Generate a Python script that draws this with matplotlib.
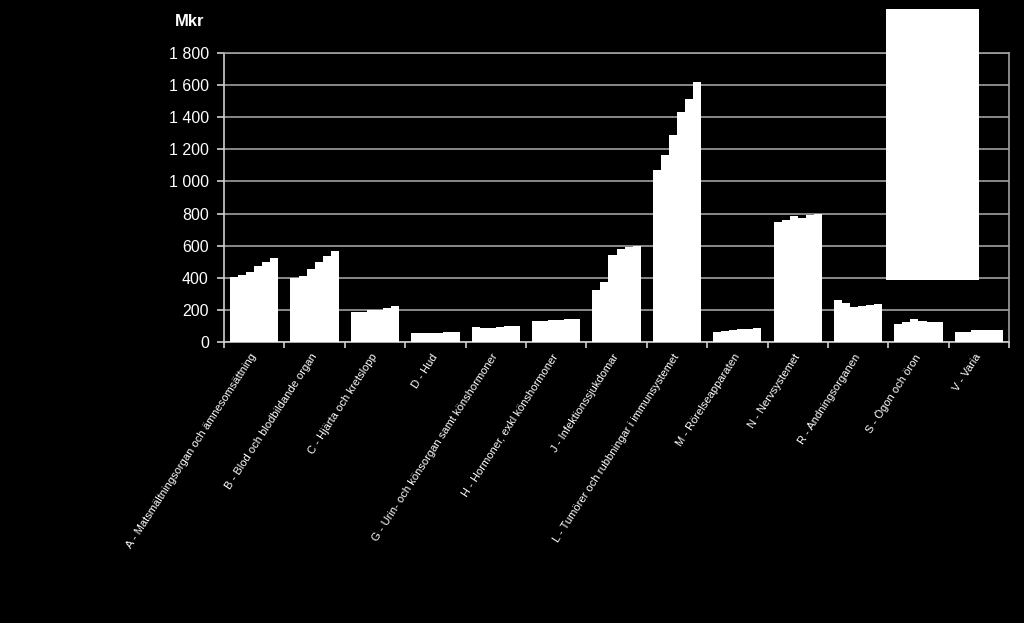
import numpy as np
import matplotlib
matplotlib.use("Agg")
import matplotlib.pyplot as plt
from matplotlib.patches import Rectangle
from matplotlib.ticker import FuncFormatter, FixedLocator

plt.rcParams['font.family'] = ['Liberation Sans', 'DejaVu Sans']

# categories (ATC groups) and six yearly values per group, Mkr
categories = [
    "A - Matsmältningsorgan och ämnesomsättning",
    "B - Blod och blodbildande organ",
    "C - Hjärta och kretslopp",
    "D - Hud",
    "G - Urin- och könsorgan samt könshormoner",
    "H - Hormoner, exkl könshormoner",
    "J - Infektionssjukdomar",
    "L - Tumörer och rubbningar i immunsystemet",
    "M - Rörelseapparaten",
    "N - Nervsystemet",
    "R - Andningsorganen",
    "S - Ögon och öron",
    "V - Varia",
]
year1 = [408, 398, 186, 55, 95, 135, 325, 1070, 65, 745, 262, 115, 63]
year2 = [416, 410, 191, 56, 88, 130, 375, 1165, 68, 760, 247, 127, 66]
year3 = [435, 454, 198, 58, 90, 137, 540, 1290, 74, 783, 218, 142, 78]
year4 = [474, 497, 200, 60, 95, 140, 580, 1430, 80, 775, 228, 135, 74]
year5 = [499, 534, 211, 63, 100, 142, 590, 1510, 85, 790, 233, 128, 76]
year6 = [522, 567, 225, 66, 104, 145, 600, 1620, 90, 797, 237, 125, 77]
series = [year1, year2, year3, year4, year5, year6]

ytick_values = [0, 200, 400, 600, 800, 1000, 1200, 1400, 1600, 1800]

fig = plt.figure(figsize=(10.24, 6.23), dpi=100, facecolor='black')
ax = fig.add_axes([0.2188, 0.4506, 0.7666, 0.4648], facecolor='black')

n = len(categories)
x = np.arange(n)
group_w = 0.8
bar_w = group_w / len(series)
for i, vals in enumerate(series):
    offs = -group_w / 2 + bar_w * (i + 0.5)
    ax.bar(x + offs, vals, width=bar_w, color='white', linewidth=0, zorder=3)

ax.set_xlim(-0.5, n - 0.5)
ax.set_ylim(0, 1800)

grid_c = '#a0a0a0'
ax.yaxis.set_major_locator(FixedLocator(ytick_values))
ax.yaxis.set_major_formatter(FuncFormatter(lambda v, p: f"{int(v):,}".replace(",", " ")))
ax.grid(axis='y', color=grid_c, linewidth=1.2, zorder=0)
for s in ax.spines.values():
    s.set_color(grid_c)
    s.set_linewidth(1.2)
ax.spines['left'].set_color('#d0d0d0')
ax.spines['bottom'].set_color('#d0d0d0')

ax.tick_params(axis='y', colors='#d0d0d0', labelcolor='white', labelsize=11.5,
               length=5, width=1.2, pad=6)

# labels at group centres, ticks at group boundaries
ax.set_xticks(x)
ax.set_xticklabels(categories, rotation=57, ha='right', va='center',
                   rotation_mode='anchor', fontsize=8.0, color='white')
ax.tick_params(axis='x', which='major', length=0, pad=9)
ax.set_xticks(np.arange(n + 1) - 0.5, minor=True)
ax.tick_params(axis='x', which='minor', length=4, width=1.2, color='#d0d0d0')

fig.text(0.185, 0.966, "Mkr", color='white', fontsize=12, fontweight='bold',
         ha='center', va='center')

# blank white box covering the legend area
fig.patches.append(Rectangle((0.8652, 0.5506), 0.0908, 0.435,
                             transform=fig.transFigure, facecolor='white',
                             edgecolor='none', zorder=10))

fig.savefig("out.png", dpi=100, facecolor='black')
